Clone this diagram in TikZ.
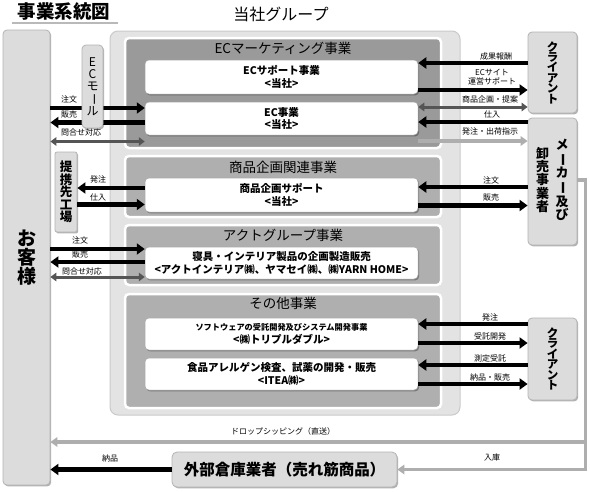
\documentclass[tikz,border=0pt]{standalone}
\usepackage{fontspec}
\setmainfont{Noto Sans CJK JP}
\usepackage{graphicx}
\usetikzlibrary{arrows.meta,shadows}
\definecolor{kcol}{HTML}{DCDCDC}
\definecolor{kbrd}{HTML}{B4B4B4}
\definecolor{gcol}{HTML}{E3E3E3}
\definecolor{gbrd}{HTML}{CACACA}
\definecolor{sonecol}{HTML}{9A9A9A}
\definecolor{scol}{HTML}{AFAFAF}
\definecolor{dgray}{HTML}{555555}
\definecolor{lgray}{HTML}{AEAEAE}
\newcommand{\vchoon}{\rotatebox[origin=c]{-90}{ー}}
\begin{document}
\begin{tikzpicture}[x=1pt,y=-1pt,
  lbl/.style={font=\fontsize{8}{9}\selectfont, inner sep=0pt, align=center},
  blk/.style={line width=4.5pt, black, -{Triangle[length=8pt,width=11pt]}},
  dbl/.style={line width=3pt, dgray, {Triangle[length=6pt,width=8.5pt]}-{Triangle[length=6pt,width=8.5pt]}},
  lgt/.style={line width=3.5pt, lgray, -{Triangle[length=7pt,width=9.5pt]}},
  shd/.style={drop shadow={shadow xshift=1.2pt, shadow yshift=-1.4pt, fill=black, opacity=0.3}},
  kbox/.style={draw=kbrd, fill=kcol, line width=0.8pt, rounded corners=4pt, inner sep=0pt, align=center, shd},
  grp/.style={draw=gbrd, fill=gcol, line width=1pt, rounded corners=8pt, inner sep=0pt},
  sec/.style={draw=white, line width=2.5pt, rounded corners=4pt, inner sep=0pt},
  sectitle/.style={font=\fontsize{13.5}{14}\selectfont, inner sep=0pt},
  ibox/.style={draw=gray!70, fill=white, line width=0.5pt, rounded corners=4pt, inner sep=0pt, align=center, shd, minimum width=273pt},
  ibtext/.style={font=\fontsize{10.5}{12.5}\selectfont\bfseries},
  vtxt/.style={inner sep=0pt, align=center}
]
\useasboundingbox (0,0) rectangle (590,491);
\fill[white] (0,0) rectangle (590,491);

% titles
\node[font=\fontsize{18.5}{19}\selectfont\bfseries, inner sep=0pt] (title) at (64,11) {事業系統図};
\draw[gray!55, line width=1.5pt] (12,23) -- (118,23);
\node[font=\fontsize{16}{16}\selectfont, inner sep=0pt] (grtitle) at (281,14) {当社グループ};

% customers
\node[kbox, minimum width=47pt, minimum height=455pt, font=\fontsize{19}{19}\selectfont\bfseries] (kyaku) at (26.5,257.5) {お\\客\\様};

% group
\node[grp, minimum width=350pt, minimum height=384pt] (group) at (285,223) {};

% sections
\node[sec, fill=sonecol, minimum width=316pt, minimum height=110pt] (s1) at (283,93) {};
\node[sec, fill=scol, minimum width=316pt, minimum height=61pt] (s2) at (283,186.5) {};
\node[sec, fill=scol, minimum width=316pt, minimum height=60pt] (s3) at (283,255) {};
\node[sec, fill=scol, minimum width=316pt, minimum height=114pt] (s4) at (283,351) {};
\node[sectitle] (s1t) at (283,48) {ECマーケティング事業};
\node[sectitle] (s2t) at (283,167) {商品企画関連事業};
\node[sectitle] (s3t) at (283,235.5) {アクトグループ事業};
\node[sectitle] (s4t) at (283,303.5) {その他事業};

% inner boxes
\node[ibox, minimum height=34pt, ibtext] (ecsup) at (281.5,77) {ECサポート事業\\<当社>};
\node[ibox, minimum height=33pt, ibtext] (ecj) at (281.5,118.5) {EC事業\\<当社>};
\node[ibox, minimum height=34pt, ibtext] (shohin) at (281.5,195) {商品企画サポート\\<当社>};
\node[ibox, minimum height=32pt, font=\fontsize{10.5}{13}\selectfont\bfseries] (act) at (281.5,263) {寝具・インテリア製品の企画製造販売\\<アクトインテリア㈱、ヤマセイ㈱、㈱YARN HOME>};
\node[ibox, minimum height=32pt, font=\fontsize{8.2}{12.5}\selectfont\bfseries] (soft) at (281.5,334) {ソフトウェアの受託開発及びシステム開発事業\\{\fontsize{10.5}{12.5}\selectfont <㈱トリプルダブル>}};
\node[ibox, minimum height=32pt, ibtext] (food) at (281.5,374) {食品アレルゲン検査、試薬の開発・販売\\<ITEA㈱>};

% right boxes
\node[kbox, minimum width=49pt, minimum height=81pt, font=\fontsize{11.5}{10.4}\selectfont\bfseries] (client1) at (552.5,72.5) {ク\\ラ\\イ\\ア\\ン\\ト};
\node[kbox, minimum width=49pt, minimum height=127pt] (maker) at (552.5,181.5) {};
\node[vtxt, font=\fontsize{13}{13.3}\selectfont\bfseries] (makerR) at (562,180) {メ\\\vchoon\\カ\\\vchoon\\及\\び};
\node[vtxt, font=\fontsize{13}{13.3}\selectfont\bfseries] (makerL) at (542.5,180) {卸\\売\\事\\業\\者};
\node[kbox, minimum width=49pt, minimum height=82pt, font=\fontsize{11.5}{10.4}\selectfont\bfseries] (client2) at (552.5,359) {ク\\ラ\\イ\\ア\\ン\\ト};

% bottom warehouse
\node[kbox, minimum width=225pt, minimum height=35pt, rounded corners=5pt, font=\fontsize{15.5}{16}\selectfont\bfseries] (souko) at (284.5,469.5) {外部倉庫業者（売れ筋商品）};

% ---- left arrows, EC
\draw[blk] (kyaku.east |- 0,108) -- (ecj.west |- 0,108);
\draw[blk] (ecj.west |- 0,122.5) -- (kyaku.east |- 0,122.5);
\draw[dbl] (kyaku.east |- 0,141.5) -- (ecj.west |- 0,141.5);
\node[lbl, anchor=west] (l1) at (61,99.5) {注文};
\node[lbl, anchor=west] (l2) at (61,114) {販売};
\node[lbl, anchor=west] (l3) at (61,132.5) {問合せ対応};

% ---- left arrows, act
\draw[blk] (kyaku.east |- 0,249) -- (act.west |- 0,249);
\draw[blk] (act.west |- 0,262) -- (kyaku.east |- 0,262);
\draw[dbl] (kyaku.east |- 0,277) -- (act.west |- 0,277);
\node[lbl] (l6) at (80,240.5) {注文};
\node[lbl] (l7) at (80,254.5) {販売};
\node[lbl] (l8) at (82,271) {問合せ対応};

% ---- EC mall & partner factory (on top)
\node[kbox, minimum width=21pt, minimum height=83pt, font=\fontsize{12}{12}\selectfont] (ecmall) at (92.5,86.5) {E\\C\\モ\\\vchoon\\ル};
\node[kbox, minimum width=22pt, minimum height=80pt, rounded corners=2pt, font=\fontsize{12.5}{12.6}\selectfont\bfseries] (teikei) at (66,192) {提\\携\\先\\工\\場};

% ---- section 2 left
\draw[blk] (shohin.west |- 0,188) -- (teikei.east |- 0,188);
\draw[blk] (teikei.east |- 0,204.5) -- (shohin.west |- 0,204.5);
\node[lbl] (l4) at (98,179.5) {発注};
\node[lbl] (l5) at (98,197) {仕入};

% ---- right arrows, EC
\draw[blk] (client1.west |- 0,63) -- (ecsup.east |- 0,63);
\draw[blk] (ecsup.east |- 0,90) -- (client1.west |- 0,90);
\draw[dbl] (ecj.east |- 0,107) -- (client1.west |- 0,107);
\draw[blk] (maker.west |- 0,122) -- (ecj.east |- 0,122);
\draw[lgt] (ecj.east |- 0,141) -- (maker.west |- 0,141);
\node[lbl] (r1) at (496,56.5) {成果報酬};
\node[lbl] (r2) at (492,77) {ECサイト\\運営サポート};
\node[lbl] (r3) at (490,99) {商品企画・提案};
\node[lbl] (r4) at (492,114.5) {仕入};
\node[lbl] (r5) at (490,131.5) {発注・出荷指示};

% ---- right arrows, section 2
\draw[blk] (maker.west |- 0,187) -- (shohin.east |- 0,187);
\draw[blk] (shohin.east |- 0,205.5) -- (maker.west |- 0,205.5);
\node[lbl] (r6) at (491,180) {注文};
\node[lbl] (r7) at (491,197.5) {販売};

% ---- right arrows, section 4
\draw[blk] (client2.west |- 0,324) -- (soft.east |- 0,324);
\draw[blk] (soft.east |- 0,343) -- (client2.west |- 0,343);
\draw[blk] (client2.west |- 0,365) -- (food.east |- 0,365);
\draw[blk] (food.east |- 0,384) -- (client2.west |- 0,384);
\node[lbl] (r8) at (490,317.5) {発注};
\node[lbl] (r9) at (490,336.5) {受託開発};
\node[lbl] (r10) at (490,358) {測定受託};
\node[lbl] (r11) at (490,377) {納品・販売};

% ---- bottom flows
\coordinate (dsturn) at (585.5,180);
\coordinate (dsjoin) at (585.5,442);
\draw[lgt] (maker.east |- dsturn) -- (dsturn) -- (dsjoin) -- (kyaku.east |- dsjoin);
\draw[lgt] (dsjoin) -- (dsjoin |- souko.east) -- (souko.east);
\draw[blk] (souko.west) -- (kyaku.east |- souko.west);
\node[lbl] (b1) at (283,431) {ドロップシッピング（直送）};
\node[lbl] (b2) at (492,457.5) {入庫};
\node[lbl] (b3) at (110,458) {納品};
\end{tikzpicture}
\end{document}
